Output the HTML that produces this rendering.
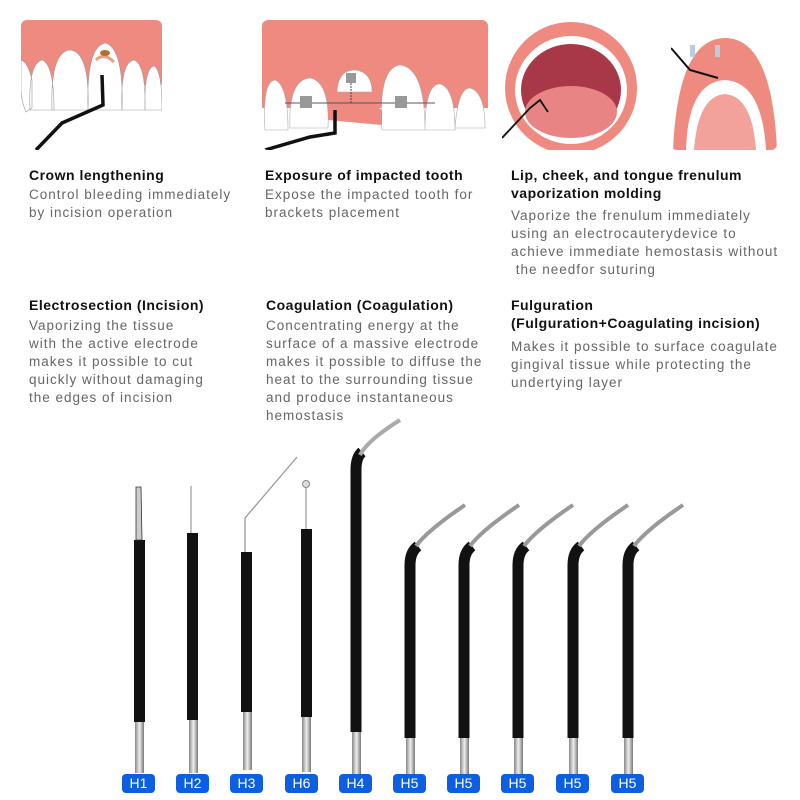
<!DOCTYPE html>
<html><head><style>
body{margin:0;width:800px;height:800px;background:#fff;font-family:"Liberation Sans",sans-serif;position:relative;overflow:hidden}
.t{position:absolute;font-size:14px;font-weight:bold;color:#111;line-height:18px;letter-spacing:.5px;white-space:nowrap}
.b{position:absolute;font-size:13.5px;color:#666;line-height:18px;letter-spacing:1px;white-space:nowrap}
.lab{position:absolute;top:774px;width:33px;height:19px;background:#0b5fe0;border-radius:4px;color:#fff;font-size:14px;text-align:center;line-height:19px}
</style></head><body>
<svg width="800" height="800" style="position:absolute;left:0;top:0">
<defs>
<linearGradient id="sv" x1="0" x2="1"><stop offset="0" stop-color="#888"/><stop offset=".5" stop-color="#eee"/><stop offset="1" stop-color="#777"/></linearGradient>
<clipPath id="c1"><rect x="21" y="20" width="141" height="130" rx="6"/></clipPath>
<clipPath id="c2"><rect x="262" y="20" width="226" height="130" rx="6"/></clipPath>
<clipPath id="c3"><rect x="502" y="20" width="158" height="130" rx="6"/></clipPath>
<clipPath id="c4"><rect x="671" y="20" width="106" height="130" rx="6"/></clipPath>
</defs>
<g clip-path="url(#c1)">
<rect x="21" y="20" width="141" height="130" fill="#fff"/>
<rect x="21" y="20" width="141" height="65" fill="#ef8a80"/>
<path d="M21 60Q28 62 32 80L32 108 26 112Q21 100 21 90Z M30 110Q28 64 42 60Q54 64 54 110Z M52 110Q50 52 70 50Q90 52 88 110Z M88 110Q86 45 106 43Q124 50 122 110Z M122 110Q120 62 134 60Q146 64 145 110Z M145 110Q144 68 154 66Q162 70 162 110Z" fill="#fff" stroke="#999" stroke-width=".6"/>
<path d="M96 60Q104 52 114 62" fill="none" stroke="#e8a080" stroke-width="3"/>
<ellipse cx="105" cy="53" rx="5" ry="3" fill="#b07030"/>
<path d="M36 150L62 123 103 105 102 75" fill="none" stroke="#111" stroke-width="3.5"/>
</g>
<g clip-path="url(#c2)">
<rect x="262" y="20" width="226" height="130" fill="#fff"/>
<rect x="262" y="20" width="226" height="88" fill="#ef8a80"/>
<path d="M265 130Q262 82 275 80Q288 85 288 130Z M290 128Q288 80 310 78Q330 82 328 128Z M337 92Q338 70 355 70Q372 72 372 92Z M382 130Q378 68 400 65Q425 68 425 130Z M425 130Q425 84 440 84Q455 88 455 130Z M455 128Q458 88 470 88Q485 92 485 128Z" fill="#fff" stroke="#aaa" stroke-width=".6"/>
<path d="M328 108Q340 102 372 104L382 110 382 125 328 120Z" fill="#ef8a80"/>
<line x1="285" y1="103" x2="435" y2="103" stroke="#555"/>
<rect x="300" y="96" width="12" height="12" fill="#999"/><rect x="395" y="96" width="12" height="12" fill="#999"/><rect x="346" y="73" width="10" height="10" fill="#999"/>
<line x1="351" y1="83" x2="351" y2="103" stroke="#444" stroke-dasharray="2 1"/>
<path d="M265 150L310 137 335 133 335 110" fill="none" stroke="#111" stroke-width="3.5"/>
</g>
<g clip-path="url(#c3)">
<rect x="502" y="20" width="158" height="130" fill="#fff"/>
<ellipse cx="571" cy="88" rx="66" ry="66" fill="#ef8a80"/>
<ellipse cx="571" cy="90" rx="56" ry="54" fill="#fff"/>
<ellipse cx="571" cy="90" rx="50" ry="46" fill="#a83848"/>
<ellipse cx="571" cy="112" rx="46" ry="26" fill="#e88584"/>
<path d="M502 138L530 108 540 100 548 112" fill="none" stroke="#111" stroke-width="1.8"/>
</g>
<g clip-path="url(#c4)">
<rect x="671" y="20" width="106" height="130" fill="#fff"/>
<path d="M673 150Q678 38 725 38Q772 38 777 150Z" fill="#ef8a80"/>
<path d="M686 150Q688 82 725 80Q762 82 766 150Z" fill="#fff"/>
<path d="M694 150Q698 96 725 94Q752 96 756 150Z" fill="#f2a29a"/>
<path d="M671 48L690 70 718 78" fill="none" stroke="#111" stroke-width="2"/>
<rect x="690" y="45" width="5" height="12" fill="#bcd"/><rect x="715" y="45" width="5" height="12" fill="#bcd"/>
</g>
<g>
<rect x="135" y="722" width="9" height="51" fill="url(#sv)"/><rect x="134" y="540" width="11" height="182" fill="#111"/>
<path d="M136 540L136 487 141 487 142 540Z" fill="#ccc" stroke="#333" stroke-width=".8"/>
<rect x="189" y="720" width="9" height="53" fill="url(#sv)"/><rect x="187" y="533" width="11" height="187" fill="#111"/>
<line x1="191" y1="533" x2="191" y2="486" stroke="#999" stroke-width="1.2"/>
<rect x="243" y="712" width="9" height="58" fill="url(#sv)"/><rect x="241" y="552" width="11" height="160" fill="#111"/>
<path d="M245 552L245 518 297 457" fill="none" stroke="#999" stroke-width="1.3"/>
<rect x="302" y="717" width="9" height="55" fill="url(#sv)"/><rect x="301" y="529" width="11" height="188" fill="#111"/>
<line x1="306" y1="529" x2="306" y2="487" stroke="#aaa" stroke-width="1.5"/><circle cx="306" cy="484" r="3.5" fill="#ddd" stroke="#888"/>
<rect x="352" y="732" width="9" height="43" fill="url(#sv)"/>
<path d="M356 732V470Q356 457 362 452" fill="none" stroke="#111" stroke-width="11"/>
<path d="M360 455Q368 440 400 420" fill="none" stroke="#aaa" stroke-width="4"/>
</g>
<g id="h5">
<rect x="406" y="738" width="9" height="37" fill="url(#sv)"/>
<path d="M410 738V565Q410 552 418 546" fill="none" stroke="#111" stroke-width="11"/>
<path d="M416 546Q428 530 465 505" fill="none" stroke="#999" stroke-width="4"/>
</g>
<use href="#h5" x="54"/><use href="#h5" x="108"/><use href="#h5" x="163"/><use href="#h5" x="218"/>
</svg>
<div class="t" style="left:29px;top:166px">Crown lengthening</div>
<div class="b" style="left:29px;top:186px">Control bleeding immediately<br>by incision operation</div>
<div class="t" style="left:265px;top:166px">Exposure of impacted tooth</div>
<div class="b" style="left:265px;top:186px">Expose the impacted tooth for<br>brackets placement</div>
<div class="t" style="left:511px;top:166px">Lip, cheek, and tongue frenulum<br>vaporization molding</div>
<div class="b" style="left:511px;top:207px">Vaporize the frenulum immediately<br>using an electrocauterydevice to<br>achieve immediate hemostasis without<br>&nbsp;the needfor suturing</div>
<div class="t" style="left:29px;top:296px">Electrosection (Incision)</div>
<div class="b" style="left:29px;top:317px">Vaporizing the tissue<br>with the active electrode<br>makes it possible to cut<br>quickly without damaging<br>the edges of incision</div>
<div class="t" style="left:266px;top:296px">Coagulation (Coagulation)</div>
<div class="b" style="left:266px;top:317px">Concentrating energy at the<br>surface of a massive electrode<br>makes it possible to diffuse the<br>heat to the surrounding tissue<br>and produce instantaneous<br>hemostasis</div>
<div class="t" style="left:511px;top:296px">Fulguration<br>(Fulguration+Coagulating incision)</div>
<div class="b" style="left:511px;top:338px">Makes it possible to surface coagulate<br>gingival tissue while protecting the<br>undertying layer</div>
<div class="lab" style="left:122px">H1</div><div class="lab" style="left:176px">H2</div><div class="lab" style="left:230px">H3</div><div class="lab" style="left:285px">H6</div><div class="lab" style="left:339px">H4</div><div class="lab" style="left:393px">H5</div><div class="lab" style="left:447px">H5</div><div class="lab" style="left:501px">H5</div><div class="lab" style="left:556px">H5</div><div class="lab" style="left:611px">H5</div>
</body></html>
